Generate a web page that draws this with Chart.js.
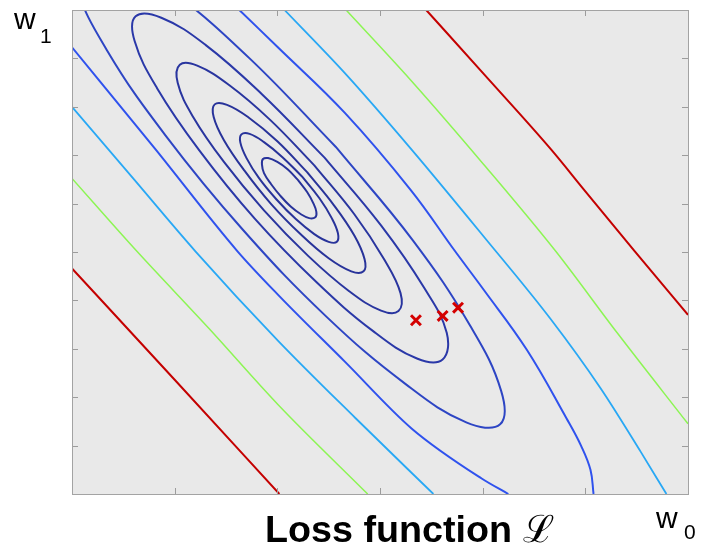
<!DOCTYPE html>
<html><head><meta charset="utf-8">
<script src="https://cdn.jsdelivr.net/npm/chart.js@4/dist/chart.umd.min.js"></script>
<style>
html,body{margin:0;padding:0;background:#fff;}
#wrap{position:relative;width:703px;height:548px;overflow:hidden;}
canvas{position:absolute;left:0;top:0;}
.lbl{position:absolute;font-family:"Liberation Sans",Arial,sans-serif;line-height:1;color:#000;white-space:nowrap;}
</style></head><body>
<div id="wrap">
<canvas id="c" width="703" height="548"></canvas>
<div class="lbl" style="left:14px;top:4px;font-size:30px;">w</div>
<div class="lbl" style="left:40px;top:25px;font-size:21px;">1</div>
<div class="lbl" style="left:656px;top:503px;font-size:30px;">w</div>
<div class="lbl" style="left:684px;top:521px;font-size:21px;">0</div>
<div class="lbl" style="left:265px;top:511px;font-size:37.7px;font-weight:bold;">Loss function <span style="font-weight:normal;">ℒ</span></div>
</div>
<script>
// axis ticks (no labels shown)
const xTicks = [0,1,2,3,4,5,6];
const yTicks = [0,1,2,3,4,5,6,7,8,9,10];

// gradient-descent iterates (red crosses)
const steps = [[3.35,3.59],[3.61,3.68],[3.76,3.85]];

// closed contours, innermost first
const levelE1 = [[2.20,6.49],[2.10,6.71],[2.00,6.86],[1.91,6.94],[1.86,6.92],[1.85,6.81],[1.87,6.63],[1.94,6.40],[2.03,6.16],[2.13,5.94],[2.23,5.78],[2.31,5.70],[2.37,5.72],[2.38,5.83],[2.35,6.01],[2.29,6.24],[2.20,6.49]];
const levelE2 = [[2.24,6.56],[2.05,6.96],[1.87,7.27],[1.73,7.44],[1.65,7.43],[1.64,7.26],[1.70,6.94],[1.82,6.53],[1.99,6.09],[2.18,5.68],[2.36,5.37],[2.50,5.21],[2.58,5.21],[2.59,5.39],[2.53,5.70],[2.41,6.11],[2.24,6.56]];
const levelE3 = [[2.29,6.65],[2.00,7.29],[1.72,7.78],[1.51,8.04],[1.39,8.05],[1.38,7.79],[1.48,7.31],[1.68,6.68],[1.94,5.99],[2.23,5.36],[2.50,4.87],[2.72,4.60],[2.84,4.60],[2.85,4.85],[2.75,5.34],[2.55,5.97],[2.29,6.65]];
const levelE4 = [[2.36,6.79],[1.93,7.73],[1.53,8.45],[1.22,8.85],[1.05,8.87],[1.03,8.49],[1.18,7.79],[1.48,6.86],[1.87,5.86],[2.30,4.92],[2.70,4.19],[3.01,3.79],[3.18,3.78],[3.20,4.15],[3.04,4.85],[2.75,5.78],[2.36,6.79]];
const levelE5 = [[2.46,6.95],[1.85,8.26],[1.30,9.28],[0.87,9.84],[0.62,9.87],[0.61,9.36],[0.83,8.38],[1.24,7.10],[1.78,5.69],[2.38,4.38],[2.93,3.37],[3.36,2.80],[3.61,2.78],[3.65,3.33],[3.43,4.26],[3.01,5.55],[2.46,6.95]];
const levelE6 = [[2.57,7.17],[1.74,8.98],[0.98,10.38],[0.39,11.16],[0.06,11.21],[0.04,10.51],[0.34,9.17],[0.91,7.41],[1.66,5.47],[2.48,3.66],[3.25,2.27],[3.84,1.48],[4.17,1.44],[4.18,2.13],[3.88,3.47],[3.32,5.24],[2.57,7.17]];

// open contours (two branches each)
const blueLow  = [[0,9.23],[0.81,7.13],[1.61,5.02],[2.01,4.11],[2.66,2.73],[3.31,1.35],[3.99,0.32],[4.25,0]];
const blueHigh = [[1.63,10],[2.01,9.22],[2.66,7.87],[3.30,6.28],[3.73,5.02],[4.01,4.22],[4.43,2.98],[4.82,1.55],[4.96,0.99],[5.05,0.50],[5.08,0]];
const cyanLow  = [[0,8.00],[0.60,6.51],[1.20,5.02],[2.01,3.16],[2.76,1.57],[3.52,0]];
const cyanHigh = [[2.07,10],[2.66,8.69],[3.31,7.11],[4.01,5.32],[4.66,3.62],[5.15,2.18],[5.54,0.87],[5.79,0]];
const greenLow = [[0,6.52],[0.63,5.02],[1.33,3.43],[2.01,1.84],[2.88,0]];
const greenHigh= [[2.67,10],[3.30,8.55],[4.01,6.81],[4.71,5.02],[5.31,3.33],[6,1.45]];
const redLow   = [[0,4.66],[1.00,2.36],[2.02,0]];
const redHigh  = [[3.45,10],[4.01,8.68],[4.67,7.11],[4.99,6.28],[5.48,5.02],[6,3.70]];

function toXY(arr){ return arr.map(p => ({x:p[0], y:p[1]})); }
function loop(arr, color, width){
  return {data: toXY(arr), borderColor: color, backgroundColor: color, borderWidth: width,
          showLine: true, pointRadius: 0, pointHoverRadius: 0, tension: 0.4, fill: false, clip: 0};
}
function branch(arr, color, width){
  return {data: toXY(arr), borderColor: color, backgroundColor: color, borderWidth: width,
          showLine: true, pointRadius: 0, pointHoverRadius: 0, cubicInterpolationMode: 'monotone',
          fill: false, clip: 0};
}

const framePlugin = {
  id: 'frame',
  beforeDatasetsDraw(chart){
    const {ctx, chartArea:a} = chart;
    ctx.save();
    ctx.fillStyle = '#e9e9e9';
    ctx.fillRect(a.left, a.top, a.right - a.left, a.bottom - a.top);
    ctx.restore();
  },
  afterDatasetsDraw(chart){
    const {ctx, chartArea:a, scales} = chart;
    ctx.save();
    ctx.strokeStyle = '#9c9c9c';
    ctx.lineWidth = 1;
    ctx.beginPath();
    xTicks.forEach(v => {
      const px = Math.round(scales.x.getPixelForValue(v)) + 0.5;
      ctx.moveTo(px, a.bottom); ctx.lineTo(px, a.bottom - 6);
      ctx.moveTo(px, a.top); ctx.lineTo(px, a.top + 6);
    });
    yTicks.forEach(v => {
      const py = Math.round(scales.y.getPixelForValue(v)) + 0.5;
      ctx.moveTo(a.left, py); ctx.lineTo(a.left + 6, py);
      ctx.moveTo(a.right, py); ctx.lineTo(a.right - 6, py);
    });
    ctx.stroke();
    ctx.strokeStyle = '#a3a3a3';
    ctx.strokeRect(Math.round(a.left) + 0.5, Math.round(a.top) + 0.5,
                   Math.round(a.right - a.left), Math.round(a.bottom - a.top));
    ctx.restore();
  }
};

new Chart(document.getElementById('c'), {
  type: 'scatter',
  data: { datasets: [
    {data: toXY(steps), showLine: false, pointStyle: 'crossRot', pointRadius: 7, pointHoverRadius: 7,
     borderWidth: 3, borderColor: '#d40000', backgroundColor: '#d40000', clip: 0},
    loop(levelE1, '#28339a', 2),
    loop(levelE2, '#28339a', 2),
    loop(levelE3, '#28339a', 2),
    loop(levelE4, '#29359f', 2),
    loop(levelE5, '#2a38a8', 2),
    loop(levelE6, '#2d45c4', 2),
    branch(blueLow, '#2f52ee', 2),
    loop(blueHigh, '#2f52ee', 2),
    branch(cyanLow, '#28a8f5', 1.8),
    branch(cyanHigh, '#28a8f5', 1.8),
    branch(greenLow, '#8cf553', 1.5),
    branch(greenHigh, '#8cf553', 1.5),
    branch(redLow, '#c40000', 2),
    branch(redHigh, '#c40000', 2)
  ]},
  options: {
    responsive: false, animation: false, devicePixelRatio: 1, events: [],
    layout: {padding: {left: 72, right: 15, top: 10, bottom: 54}},
    plugins: {legend: {display: false}, tooltip: {enabled: false}, title: {display: false}},
    scales: {
      x: {type: 'linear', min: 0, max: 6, display: false},
      y: {type: 'linear', min: 0, max: 10, display: false}
    }
  },
  plugins: [framePlugin]
});
</script>
</body></html>
